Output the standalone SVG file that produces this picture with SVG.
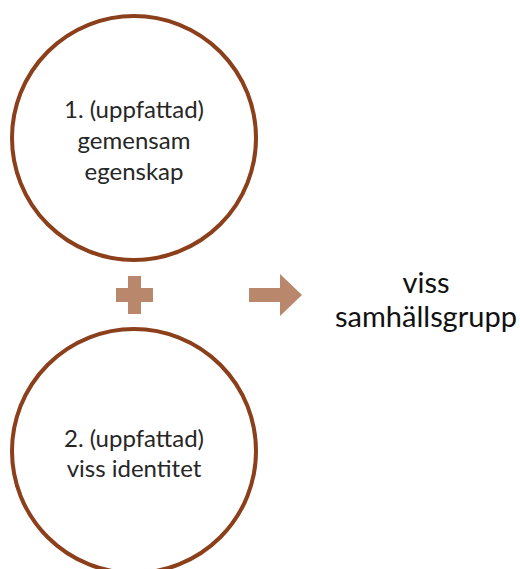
<svg xmlns="http://www.w3.org/2000/svg" width="520" height="569" viewBox="0 0 520 569">
  <style>
    .ring { fill: #ffffff; stroke: #8B3F1B; stroke-width: 4; }
    .sym { fill: #B9876B; }
    .lbl { font-family: Lato, "Open Sans", sans-serif; font-size: 24px; fill: #262626; text-anchor: middle; }
    .big { font-size: 29px; fill: #111111; }
  </style>
  <rect width="520" height="569" fill="#ffffff"/>

  <g id="node-egenskap">
    <circle class="ring" cx="134" cy="138" r="122"/>
    <text class="lbl" x="134" y="118">1. (uppfattad)</text>
    <text class="lbl" x="134" y="149">gemensam</text>
    <text class="lbl" x="134" y="180">egenskap</text>
  </g>

  <g id="node-identitet">
    <circle class="ring" cx="134" cy="451" r="122"/>
    <text class="lbl" x="134" y="447">2. (uppfattad)</text>
    <text class="lbl" x="134" y="477">viss identitet</text>
  </g>

  <g id="connectors">
    <path id="plus" class="sym" d="M128 276 H141 V288 H153 V302 H141 V314 H128 V302 H116 V288 H128 Z"/>
    <path id="arrow" class="sym" d="M249 288 H280 V274 L302 295 L280 316 V302 H249 Z"/>
  </g>

  <g id="node-samhallsgrupp">
    <text class="lbl big" x="426" y="293">viss</text>
    <text class="lbl big" x="426" y="327">samhällsgrupp</text>
  </g>
</svg>
